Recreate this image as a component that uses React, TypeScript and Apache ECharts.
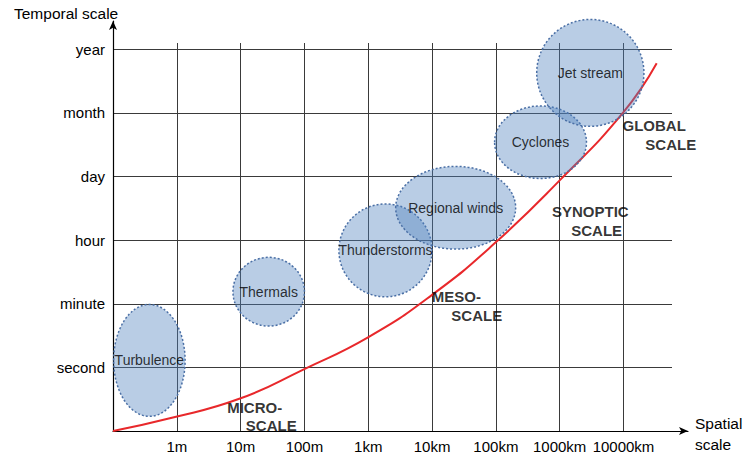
import React, { useEffect, useRef } from "react";
import * as echarts from "echarts";

const xTickLabels = ["", "1m", "10m", "100m", "1km", "10km", "100km", "1000km", "10000km"];
const yTickLabels = ["", "second", "minute", "hour", "day", "month", "year"];

const ellipseNames = ["Turbulence", "Thermals", "Thunderstorms", "Regional winds", "Cyclones", "Jet stream"];
const ellipseCx = [0.57, 2.44, 4.27, 5.37, 6.7, 7.48];
const ellipseCy = [1.11, 2.19, 2.84, 3.51, 4.54, 5.63];
const ellipseRx = [0.56, 0.56, 0.73, 0.94, 0.72, 0.84];
const ellipseRy = [0.88, 0.54, 0.73, 0.65, 0.57, 0.84];

const curveX = [0, 0.89, 1.99, 2.99, 4.01, 5.0, 5.98, 7.0, 7.99, 8.52];
const curveY = [0, 0.2, 0.51, 0.97, 1.48, 2.14, 2.95, 3.94, 5.0, 5.78];

const scaleLabelText = ["MICRO-", "SCALE", "MESO-", "SCALE", "SYNOPTIC", "SCALE", "GLOBAL", "SCALE"];
const scaleLabelX = [2.22, 2.48, 5.38, 5.7, 7.48, 7.58, 8.48, 8.74];
const scaleLabelY = [0.373, 0.083, 2.11, 1.82, 3.45, 3.16, 4.8, 4.5];

const FONT = "'Liberation Sans', Arial, sans-serif";

export default function App() {
  const ref = useRef<HTMLDivElement>(null);
  useEffect(() => {
    if (!ref.current) return;
    const chart = echarts.init(ref.current, null, { renderer: "svg" });
    const option: any = {
      animation: false,
      backgroundColor: "#ffffff",
      textStyle: { fontFamily: FONT },
      grid: [
        { left: 113, right: 70, top: 43, bottom: 26 },
        { left: 113, right: 54, top: 21, bottom: 26 },
      ],
      xAxis: [
        {
          type: "value",
          gridIndex: 0,
          min: 0,
          max: 8.76,
          interval: 1,
          axisLine: { show: false },
          axisTick: { show: false },
          axisLabel: {
            show: true,
            fontSize: 15,
            color: "#000",
            margin: 8,
            fontFamily: FONT,
            showMinLabel: false,
            showMaxLabel: false,
            formatter: (v: number) => (Number.isInteger(v) ? xTickLabels[v] || "" : ""),
          },
          splitLine: {
            show: true,
            showMinLine: false,
            showMaxLine: false,
            lineStyle: { color: "#3a3a3a", width: 1 },
          },
        },
        {
          type: "value",
          gridIndex: 1,
          min: 0,
          max: 1,
          axisLine: {
            show: true,
            symbol: ["none", "arrow"],
            symbolSize: [6, 9],
            lineStyle: { color: "#000", width: 1.2 },
          },
          axisTick: { show: false },
          axisLabel: { show: false },
          splitLine: { show: false },
        },
      ],
      yAxis: [
        {
          type: "value",
          gridIndex: 0,
          min: 0,
          max: 6.1,
          interval: 1,
          axisLine: { show: false },
          axisTick: { show: false },
          axisLabel: {
            show: true,
            fontSize: 15,
            color: "#000",
            margin: 8,
            fontFamily: FONT,
            showMinLabel: false,
            showMaxLabel: false,
            formatter: (v: number) => (Number.isInteger(v) ? yTickLabels[v] || "" : ""),
          },
          splitLine: {
            show: true,
            showMinLine: false,
            showMaxLine: false,
            lineStyle: { color: "#3a3a3a", width: 1 },
          },
        },
        {
          type: "value",
          gridIndex: 1,
          min: 0,
          max: 1,
          axisLine: {
            show: true,
            onZero: false,
            symbol: ["none", "arrow"],
            symbolSize: [6, 9],
            lineStyle: { color: "#000", width: 1.2 },
          },
          axisTick: { show: false },
          axisLabel: { show: false },
          splitLine: { show: false },
        },
      ],
      graphic: [
        {
          type: "text",
          left: 14,
          top: 5,
          style: { text: "Temporal scale", fontSize: 15.5, fontFamily: FONT, fill: "#000" },
        },
        {
          type: "text",
          left: 695,
          top: 413,
          style: { text: "Spatial\nscale", fontSize: 15.5, lineHeight: 21, fontFamily: FONT, fill: "#000" },
        },
      ],
      series: [
        {
          type: "line",
          xAxisIndex: 0,
          yAxisIndex: 0,
          data: curveX.map((x, i) => [x, curveY[i]]),
          smooth: 0.5,
          showSymbol: false,
          symbol: "none",
          lineStyle: { color: "#e8282b", width: 2 },
          z: 2,
        },
        {
          type: "custom",
          xAxisIndex: 0,
          yAxisIndex: 0,
          z: 3,
          clip: false,
          data: ellipseNames.map((n, i) => [ellipseCx[i], ellipseCy[i], ellipseRx[i], ellipseRy[i]]),
          renderItem: (params: any, api: any) => {
            const c = api.coord([api.value(0), api.value(1)]);
            const s = api.size([api.value(2), api.value(3)]);
            return {
              type: "ellipse",
              shape: { cx: c[0], cy: c[1], rx: s[0], ry: s[1] },
              style: {
                fill: "rgba(79,129,189,0.4)",
                stroke: "#4a6fa5",
                lineWidth: 1.5,
                lineDash: [2, 2],
              },
            };
          },
        },
        {
          type: "scatter",
          xAxisIndex: 0,
          yAxisIndex: 0,
          z: 4,
          symbolSize: 0,
          silent: true,
          data: ellipseNames.map((n, i) => ({ value: [ellipseCx[i], ellipseCy[i]], name: n })),
          label: {
            show: true,
            position: "inside",
            formatter: (p: any) => p.name,
            fontSize: 14,
            color: "#000",
            fontFamily: FONT,
          },
        },
        {
          type: "scatter",
          xAxisIndex: 0,
          yAxisIndex: 0,
          z: 4,
          symbolSize: 0,
          silent: true,
          data: scaleLabelText.map((t, i) => ({ value: [scaleLabelX[i], scaleLabelY[i]], name: t })),
          label: {
            show: true,
            position: "inside",
            formatter: (p: any) => p.name,
            fontSize: 15,
            fontWeight: "bold",
            color: "#000",
            fontFamily: FONT,
          },
        },
      ],
    };
    chart.setOption(option);
    return () => chart.dispose();
  }, []);
  return (
    <div
      ref={ref}
      style={{ position: "fixed", left: 0, top: 0, width: 742, height: 457 }}
    />
  );
}
